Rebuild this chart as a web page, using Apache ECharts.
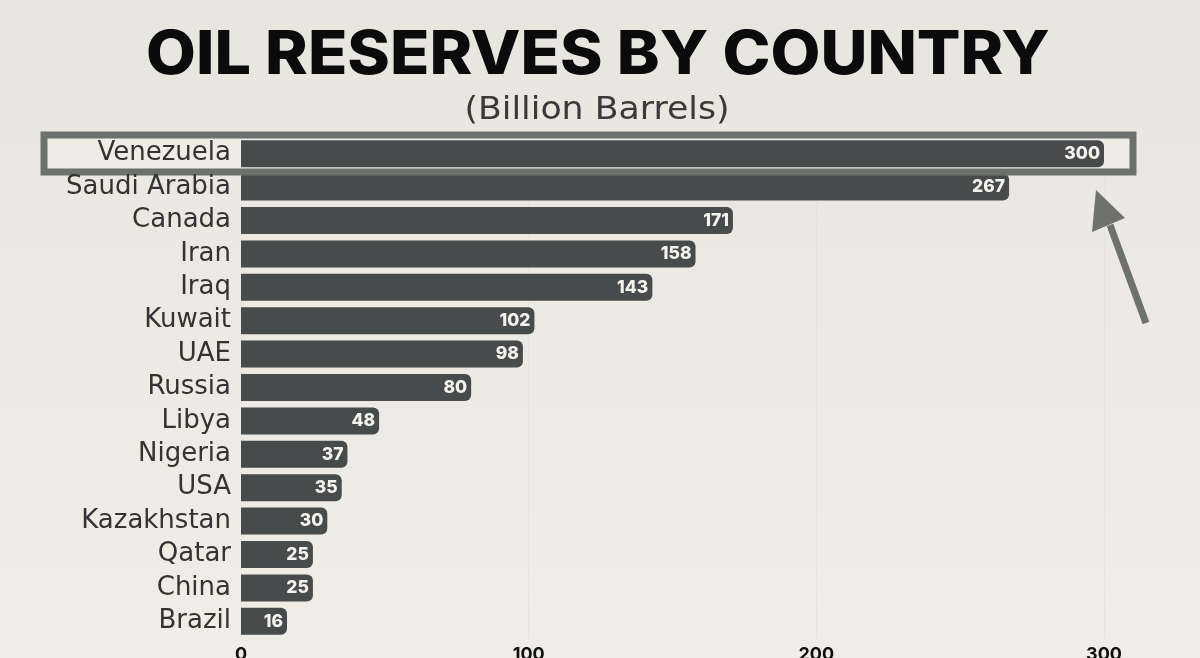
<!DOCTYPE html>
<html>
<head>
<meta charset="utf-8">
<title>Oil reserves by country</title>
<script src="https://cdn.jsdelivr.net/npm/echarts@6/dist/echarts.min.js"></script>
<style>
html, body { margin: 0; padding: 0; background: #ece9e2; }
#chart { width: 1200px; height: 658px; }
</style>
</head>
<body>
<div id="chart"></div>
<script>
const countries = ['Venezuela', 'Saudi Arabia', 'Canada', 'Iran', 'Iraq', 'Kuwait', 'UAE', 'Russia', 'Libya', 'Nigeria', 'USA', 'Kazakhstan', 'Qatar', 'China', 'Brazil'];
const reserves = [300, 267, 171, 158, 143, 102, 98, 80, 48, 37, 35, 30, 25, 25, 16];

const myChart = echarts.init(document.getElementById('chart'));

myChart.setOption({
	animation: false,
	backgroundColor: {
		type: 'linear', x: 0, y: 0, x2: 0, y2: 1,
		colorStops: [
			{ offset: 0, color: '#e8e5de' },
			{ offset: 0.4, color: '#ece9e2' },
			{ offset: 1, color: '#f0ede6' }
		]
	},
	textStyle: { fontFamily: 'Inter' },
	// tick labels overflow the page at the bottom like the original, so no auto shrinking
	grid: { left: 241, top: 137, width: 863, height: 501, outerBoundsMode: 'none' },
	xAxis: {
		type: 'value',
		min: 0,
		max: 300,
		interval: 100,
		axisLine: { show: false },
		axisTick: { show: false },
		axisLabel: { color: '#111', fontSize: 18, fontWeight: 700, margin: 8 },
		splitLine: { lineStyle: { color: '#e6e3dc', width: 1 } }
	},
	yAxis: {
		type: 'category',
		inverse: true,
		z: 5,
		data: countries,
		axisLine: { show: false },
		axisTick: { show: false },
		axisLabel: { interval: 0, fontFamily: 'DejaVu Sans', color: '#333', fontSize: 26, margin: 10, padding: [4, 0, 0, 0] }
	},
	series: [
		{
			type: 'bar',
			data: reserves,
			barWidth: 27,
			z: 3,
			itemStyle: { color: '#474b4b', borderRadius: [0, 6, 6, 0] },
			label: {
				show: true,
				position: 'insideRight',
				distance: 4,
				color: '#f4f2ec',
				fontSize: 17.5,
				fontWeight: 800
			}
		}
	],
	graphic: [
		// main title and subtitle, stretched a little to get the wide look of the original face
		{
			type: 'text',
			x: 598,
			y: 56,
			scaleX: 1.077,
			z: 1,
			style: {
				text: 'OIL RESERVES BY COUNTRY',
				fontFamily: 'Inter',
				fontSize: 60,
				fontWeight: 800,
				fill: '#0b0b0b',
				textAlign: 'center',
				textVerticalAlign: 'middle'
			}
		},
		{
			type: 'text',
			x: 597,
			y: 111,
			scaleX: 1.085,
			z: 1,
			style: {
				text: '(Billion Barrels)',
				fontFamily: 'DejaVu Sans',
				fontSize: 32,
				fill: '#3a3a3a',
				textAlign: 'center',
				textVerticalAlign: 'middle'
			}
		},
		// highlight box round the first row: fill under the bars, frame over them
		{
			type: 'rect',
			z: 1,
			shape: { x: 44, y: 135, width: 1089, height: 37 },
			style: { fill: '#efece6' }
		},
		{
			type: 'rect',
			z: 4,
			shape: { x: 44, y: 135, width: 1089, height: 37 },
			style: { fill: null, stroke: '#6d716d', lineWidth: 7 }
		},
		// arrow pointing at it
		{
			type: 'line',
			z: 1,
			shape: { x1: 1146, y1: 323, x2: 1110, y2: 225 },
			style: { stroke: '#6f716c', lineWidth: 7 }
		},
		{
			type: 'polygon',
			z: 1,
			shape: { points: [[1096, 190], [1125, 218], [1092, 232]] },
			style: { fill: '#6f716c' }
		}
	]
});
</script>
</body>
</html>
